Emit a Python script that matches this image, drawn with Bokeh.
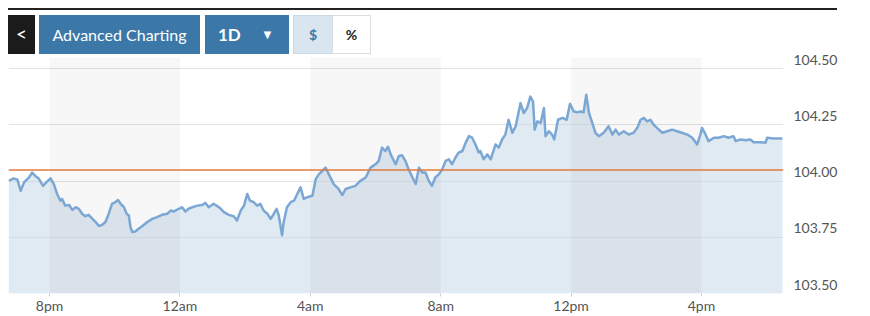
from bokeh.plotting import figure
from bokeh.models import (ColumnDataSource, FixedTicker, LinearAxis, Range1d, Grid,
                          Span, Div)
from bokeh.layouts import column
from bokeh.embed import file_html
from bokeh.resources import INLINE

# minutes after 8pm
minutes = [-75, -66, -59, -53, -47, -38, -32, -26, -20, -12, -5, 2, 8, 14, 20, 23, 29, 36, 42, 48,
           54, 60, 66, 72, 79, 85, 91, 97, 103, 109, 115, 121, 126, 131, 137, 142, 146, 149, 152, 158,
           164, 171, 180, 189, 198, 207, 217, 223, 229, 238, 244, 250, 256, 263, 272, 281, 287, 293, 302, 312,
           321, 330, 339, 345, 352, 358, 364, 369, 376, 382, 388, 394, 401, 407, 413, 418, 422, 428, 431, 437,
           444, 450, 456, 462, 468, 474, 484, 490, 496, 502, 508, 514, 523, 532, 539, 545, 554, 563, 572, 582,
           591, 600, 606, 612, 618, 623, 628, 637, 643, 649, 655, 661, 668, 674, 680, 686, 692, 698, 704, 710,
           717, 723, 729, 735, 741, 747, 753, 760, 766, 772, 778, 784, 790, 793, 799, 806, 812, 821, 827, 833,
           839, 845, 852, 858, 867, 873, 879, 885, 890, 893, 898, 904, 910, 913, 919, 925, 929, 936, 944, 952,
           958, 965, 971, 977, 983, 988, 993, 999, 1005, 1011, 1020, 1029, 1036, 1042, 1048, 1057, 1066, 1075, 1082, 1088,
           1094, 1100, 1106, 1112, 1118, 1128, 1137, 1146, 1155, 1164, 1174, 1183, 1192, 1198, 1201, 1206, 1213, 1223, 1232, 1241,
           1250, 1259, 1263, 1272, 1281, 1290, 1296, 1309, 1318, 1321, 1333, 1349]
prices = [104.001, 104.012, 104.006, 103.957, 103.994, 104.016, 104.038, 104.023, 104.012, 103.979,
          103.997, 104.012, 103.987, 103.943, 103.913, 103.921, 103.891, 103.894, 103.872, 103.884,
          103.877, 103.855, 103.844, 103.850, 103.832, 103.818, 103.800, 103.806, 103.818, 103.855,
          103.899, 103.906, 103.916, 103.899, 103.884, 103.855, 103.847, 103.796, 103.774, 103.776,
          103.788, 103.800, 103.818, 103.832, 103.840, 103.850, 103.855, 103.869, 103.865, 103.877,
          103.884, 103.865, 103.877, 103.884, 103.891, 103.894, 103.903, 103.884, 103.899, 103.884,
          103.862, 103.850, 103.844, 103.825, 103.869, 103.891, 103.943, 103.913, 103.906, 103.891,
          103.899, 103.869, 103.855, 103.832, 103.855, 103.877, 103.847, 103.759, 103.818, 103.884,
          103.906, 103.913, 103.943, 103.972, 103.921, 103.928, 103.935, 104.009, 104.031, 104.045,
          104.060, 104.031, 103.987, 103.965, 103.938, 103.965, 103.972, 103.979, 104.001, 104.016,
          104.060, 104.075, 104.090, 104.149, 104.134, 104.153, 104.119, 104.075, 104.112, 104.115,
          104.090, 104.053, 104.016, 103.987, 104.060, 104.038, 104.038, 104.001, 103.979, 104.016,
          104.031, 104.053, 104.090, 104.097, 104.075, 104.104, 104.127, 104.134, 104.171, 104.200,
          104.193, 104.163, 104.127, 104.134, 104.097, 104.119, 104.097, 104.163, 104.149, 104.185,
          104.207, 104.273, 104.215, 104.244, 104.347, 104.303, 104.325, 104.376, 104.354, 104.229,
          104.266, 104.259, 104.325, 104.200, 104.222, 104.207, 104.185, 104.273, 104.281, 104.273,
          104.344, 104.310, 104.306, 104.310, 104.306, 104.384, 104.303, 104.259, 104.215, 104.200,
          104.215, 104.244, 104.207, 104.229, 104.207, 104.222, 104.207, 104.215, 104.237, 104.273,
          104.281, 104.266, 104.273, 104.251, 104.237, 104.215, 104.222, 104.229, 104.222, 104.215,
          104.207, 104.193, 104.163, 104.207, 104.237, 104.215, 104.178, 104.193, 104.193, 104.200,
          104.193, 104.200, 104.178, 104.185, 104.182, 104.185, 104.173, 104.173, 104.171, 104.193,
          104.190, 104.190]

prev_close = 104.05
x_ticks = [0, 240, 480, 720, 960, 1200]
x_tick_labels = ["8pm", "12am", "4am", "8am", "12pm", "4pm"]
y_ticks = [103.50, 103.75, 104.00, 104.25, 104.50]
band_starts = [0, 480, 960]
band_ends = [240, 720, 1200]
x_start, x_end = -75.5, 1351
y_start, y_end = 103.5, 104.55

src = ColumnDataSource(dict(x=minutes, y=prices))

p = figure(width=870, height=271, output_backend="svg", toolbar_location=None,
           x_range=Range1d(x_start, x_end), y_range=Range1d(y_start, y_end),
           y_axis_location=None, min_border_left=8, min_border_right=87,
           min_border_top=12, min_border_bottom=21, margin=0)
p.outline_line_color = None
p.background_fill_color = "white"
p.border_fill_color = None
p.xgrid.visible = False
p.ygrid.visible = False

p.add_layout(Grid(dimension=1, ticker=FixedTicker(ticks=y_ticks),
                  grid_line_color="#e3e3e3", grid_line_width=1))

p.varea(x="x", y1=y_start, y2="y", source=src, fill_color="#c6d9e8", fill_alpha=0.55)
p.quad(left=band_starts, right=band_ends, bottom=y_start, top=y_end,
       fill_color="black", fill_alpha=0.03, line_color=None)
p.line(x="x", y="y", source=src, line_color="#7ba7d4", line_width=2.5, line_join="round")
p.add_layout(Span(location=prev_close, dimension="width", line_color="#e07a3e", line_width=1.5))

xa = p.xaxis[0]
xa.ticker = FixedTicker(ticks=x_ticks)
xa.major_label_overrides = {t: l for t, l in zip(x_ticks, x_tick_labels)}
xa.axis_line_color = None
xa.major_tick_line_color = "#cccccc"
xa.major_tick_out = 3
xa.major_tick_in = 0
xa.minor_tick_line_color = None
xa.major_label_standoff = 0
xa.major_label_text_font = "Lato"
xa.major_label_text_font_size = "14px"
xa.major_label_text_color = "#555555"

shift = 9 * (y_end - y_start) / 238.0
p.extra_y_ranges = {"lab": Range1d(y_start - shift, y_end - shift)}
ya = LinearAxis(y_range_name="lab", ticker=FixedTicker(ticks=y_ticks))
ya.major_label_overrides = {t: f"{t:.2f}" for t in y_ticks}
ya.axis_line_color = None
ya.major_tick_line_color = None
ya.minor_tick_line_color = None
ya.major_label_standoff = 4
ya.major_label_text_font = "Lato"
ya.major_label_text_font_size = "14px"
ya.major_label_text_color = "#555555"
p.add_layout(ya, "right")

html = """
<div style="position:relative;width:870px;height:57px;background:#fff;font-family:Lato,sans-serif;">
 <div style="position:absolute;left:8px;top:8px;width:829px;height:2px;background:#222;"></div>
 <div style="position:absolute;left:8px;top:15px;width:27px;height:39px;background:#1b1b1b;color:#fff;font-size:19px;line-height:37px;text-align:center;">&lt;</div>
 <div style="position:absolute;left:39px;top:15px;width:161px;height:39px;background:#3b78a8;color:#fff;font-size:16px;line-height:39px;text-align:center;">Advanced Charting</div>
 <div style="position:absolute;left:205px;top:15px;width:84px;height:39px;background:#3b78a8;color:#fff;">
   <span style="position:absolute;left:13px;top:0;font-size:17px;font-weight:bold;line-height:39px;">1D</span>
   <span style="position:absolute;left:56px;top:0;font-size:13px;line-height:39px;">&#9660;</span>
 </div>
 <div style="position:absolute;left:293px;top:15px;width:40px;height:39px;box-sizing:border-box;background:#d9e5ef;border:1px solid #cbd7e1;color:#3b78a8;font-size:14px;font-weight:bold;line-height:37px;text-align:center;">$</div>
 <div style="position:absolute;left:332px;top:15px;width:39px;height:39px;box-sizing:border-box;background:#fff;border:1px solid #dddddd;color:#222;font-size:14px;font-weight:bold;line-height:37px;text-align:center;">%</div>
</div>
"""
div = Div(text=html, width=870, height=57, margin=(0, 0, -12, 0))

layout = column(div, p, spacing=0)
open("out.html", "w").write(file_html(layout, INLINE))
